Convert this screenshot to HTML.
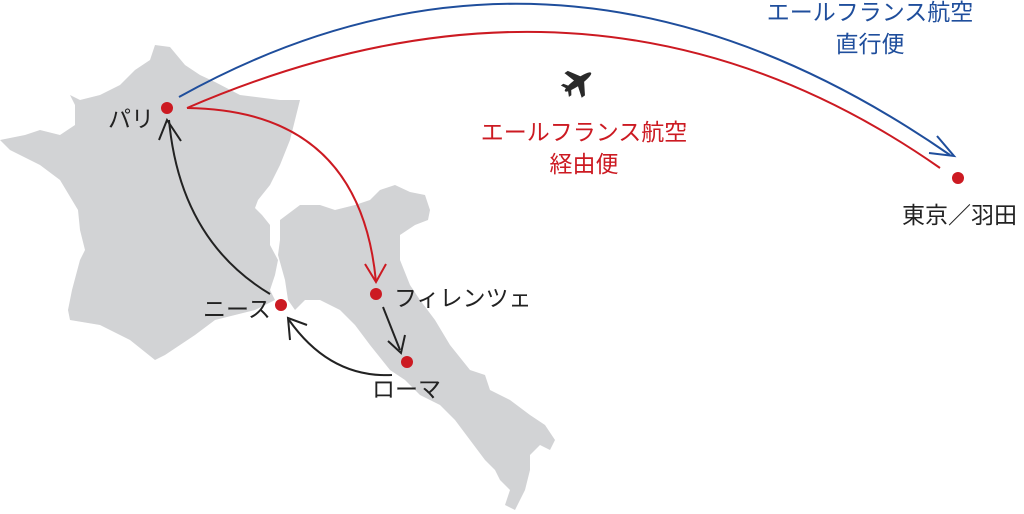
<!DOCTYPE html>
<html><head><meta charset="utf-8"><style>
html,body{margin:0;padding:0;background:#fff;}
svg{display:block;}
text{font-family:"Liberation Sans","Noto Sans CJK JP",sans-serif;font-size:23px;}
</style></head><body>
<svg width="1024" height="514" viewBox="0 0 1024 514" xmlns="http://www.w3.org/2000/svg">
<!-- France -->
<path fill="#d2d3d5" d="M155,45 L170,47 L185,65 L200,75 L215,82 L240,95 L280,100 L300,100 L295,120 L290,140 L280,165 L270,185 L258,200 L255,208 L262,215 L270,225 L270,245 L278,260 L275,275 L270,290 L275,300 L255,310 L235,315 L215,320 L195,335 L180,345 L165,355 L155,360 L130,340 L100,325 L70,320 L68,310 L72,290 L80,260 L85,250 L80,230 L78,210 L60,180 L40,165 L10,150 L0,140 L25,135 L40,130 L60,135 L75,125 L75,105 L70,95 L80,100 L100,95 L120,85 L135,70 L150,60 Z"/>
<!-- Italy -->
<path fill="#d2d3d5" d="M280,220 L300,205 L320,205 L335,210 L355,205 L370,200 L380,190 L395,185 L410,192 L425,195 L430,210 L428,220 L415,225 L400,235 L400,260 L410,285 L420,300 L435,320 L450,345 L470,370 L485,375 L490,390 L510,400 L530,415 L545,425 L555,440 L550,450 L540,445 L530,455 L530,470 L525,490 L515,510 L505,505 L510,490 L500,480 L495,470 L485,460 L470,440 L455,420 L440,405 L420,395 L405,380 L390,370 L370,345 L355,325 L340,310 L320,300 L305,300 L295,310 L288,300 L285,280 L278,255 L280,240 Z"/>
<!-- blue direct -->
<path d="M179,97 Q560,-115 950,155" fill="none" stroke="#1f4e9c" stroke-width="2"/>
<path d="M937,136 L954,156 L929,153" fill="none" stroke="#1f4e9c" stroke-width="2"/>
<!-- red via -->
<path d="M187,108 Q600,-70 940,168" fill="none" stroke="#cc1a22" stroke-width="2"/>
<path d="M187,108 Q360,110 376,282" fill="none" stroke="#cc1a22" stroke-width="2"/>
<path d="M365,264 L376,282 L386,264" fill="none" stroke="#cc1a22" stroke-width="2"/>
<!-- black arrows -->
<path d="M270,294 Q180,240 169,120" fill="none" stroke="#222" stroke-width="2"/>
<path d="M159,140 L167,120 L181,141" fill="none" stroke="#222" stroke-width="2"/>
<path d="M383,307 L400,350" fill="none" stroke="#222" stroke-width="2"/>
<path d="M388,341 L401,353 L405,335" fill="none" stroke="#222" stroke-width="2"/>
<path d="M392,375 Q330,378 289,320" fill="none" stroke="#222" stroke-width="2"/>
<path d="M290,340 L288,318 L307,325" fill="none" stroke="#222" stroke-width="2"/>
<!-- dots -->
<circle cx="167" cy="108" r="6" fill="#cc1a22"/>
<circle cx="281" cy="305" r="6" fill="#cc1a22"/>
<circle cx="376" cy="294" r="6" fill="#cc1a22"/>
<circle cx="407" cy="362" r="6" fill="#cc1a22"/>
<circle cx="958" cy="178" r="6" fill="#cc1a22"/>
<!-- plane -->
<g transform="translate(578,82) rotate(-35)" fill="#2a2a2a">
<ellipse cx="0" cy="0" rx="16" ry="3.5"/>
<path d="M-2,-2 L-6,-15 L-2,-15 L6,-2 Z M-2,2 L-6,15 L-2,15 L6,2 Z M-13,-1 L-16,-7 L-13,-7 L-9,-1 Z M-13,1 L-16,7 L-13,7 L-9,1 Z"/>
</g>
<!-- labels -->
<text x="108" y="127" fill="#222">パリ</text>
<text x="203" y="317" fill="#222">ニース</text>
<text x="394" y="306" fill="#222">フィレンツェ</text>
<text x="372" y="397" fill="#222">ローマ</text>
<text x="902" y="223" fill="#222">東京／羽田</text>
<text x="870" y="20" fill="#1f4e9c" text-anchor="middle">エールフランス航空</text>
<text x="870" y="52" fill="#1f4e9c" text-anchor="middle">直行便</text>
<text x="584" y="140" fill="#cc1a22" text-anchor="middle">エールフランス航空</text>
<text x="584" y="172" fill="#cc1a22" text-anchor="middle">経由便</text>
</svg>
</body></html>
